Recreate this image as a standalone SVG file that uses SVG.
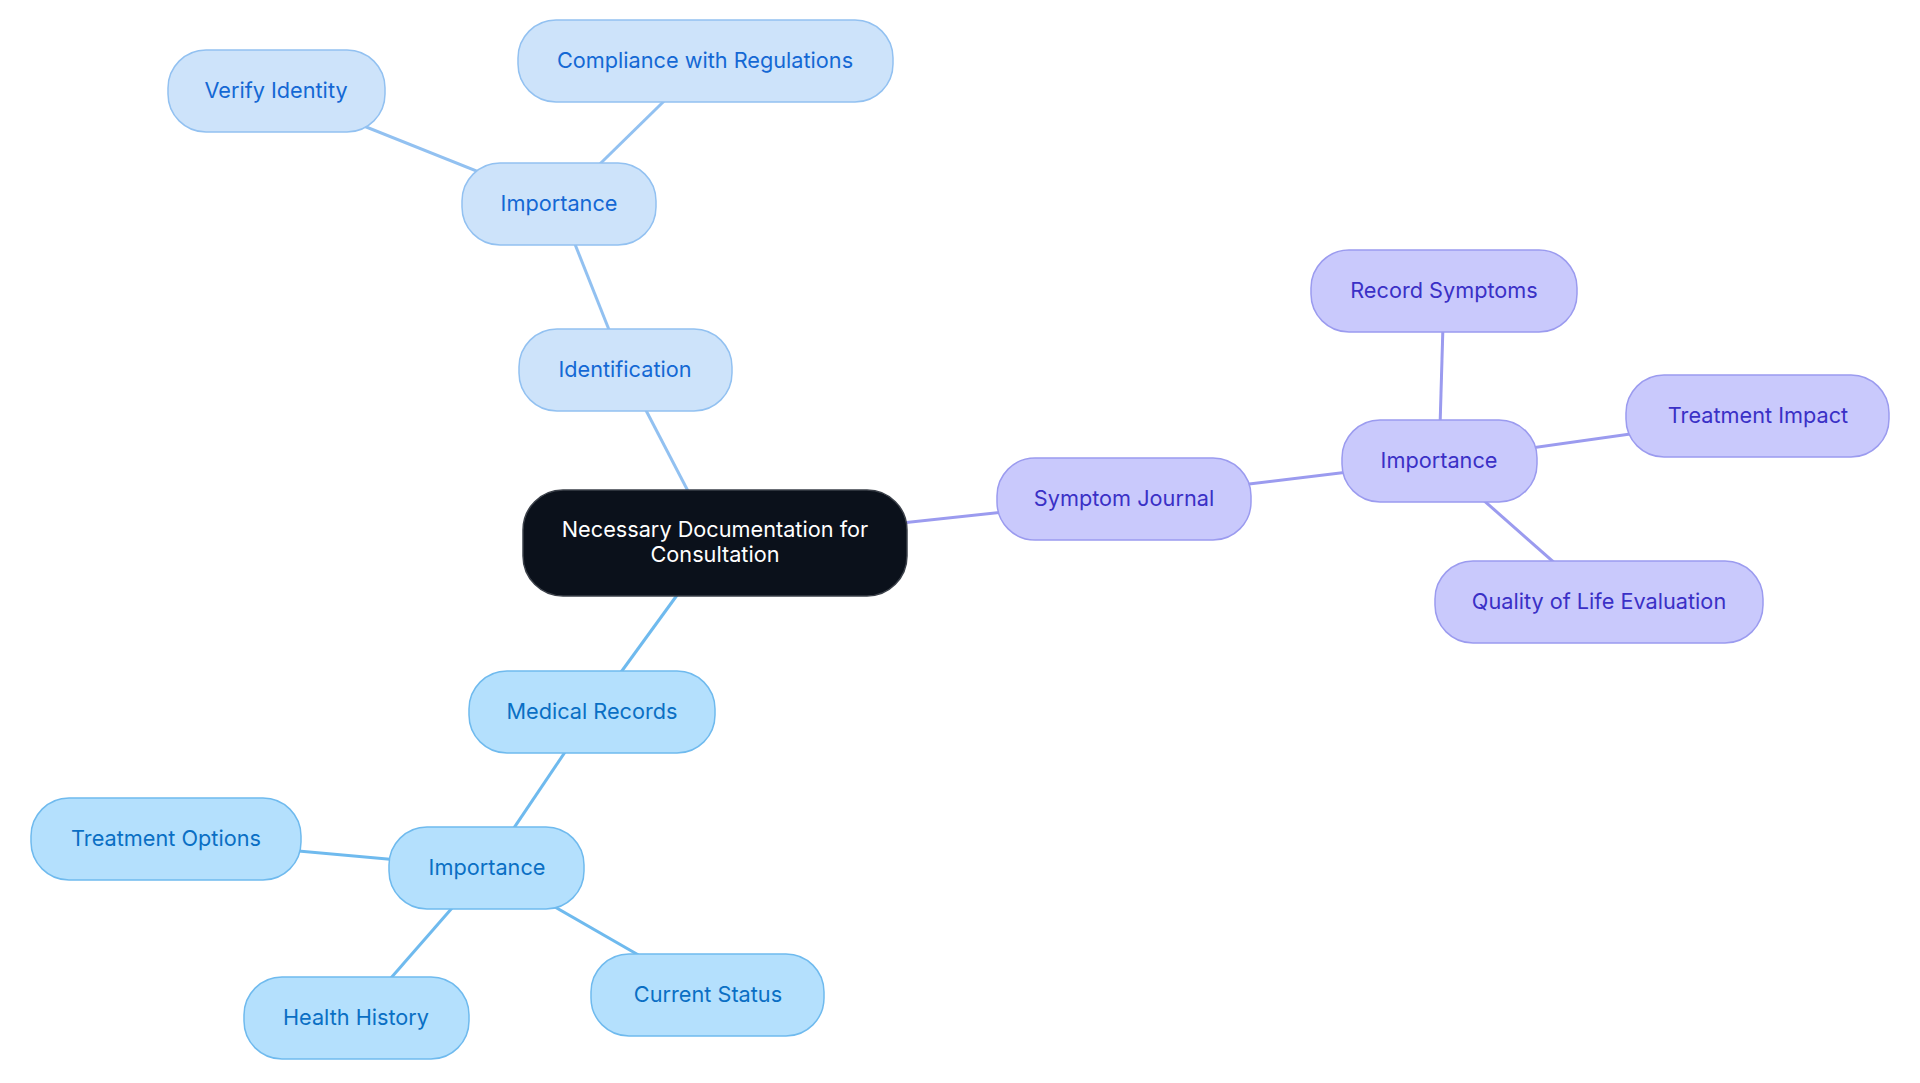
<svg xmlns="http://www.w3.org/2000/svg" width="1920" height="1083" viewBox="0 0 1920 1083">
<style>
text{font-family:Inter,"Noto Sans","Liberation Sans",sans-serif;font-size:21.7px;text-anchor:middle;dominant-baseline:central}
.a rect{fill:#cde3fa;stroke:#92c1f1;stroke-width:1.5}
.a text{fill:#1468d4}
.b rect{fill:#b4e0fd;stroke:#6fbaee;stroke-width:1.5}
.b text{fill:#0a6fc4}
.c rect{fill:#c9c9fc;stroke:#9b9bef;stroke-width:1.5}
.c text{fill:#3a30c6}
.la{stroke:#92c1f1;stroke-width:3;fill:none}
.lb{stroke:#6fbaee;stroke-width:3;fill:none}
.lc{stroke:#9b9bef;stroke-width:3;fill:none}
</style>
<rect width="1920" height="1083" fill="#ffffff"/>
<g id="connectors">
<line class="la" x1="715" y1="543" x2="625" y2="370"/>
<line class="la" x1="625" y1="370" x2="559" y2="204"/>
<line class="la" x1="559" y1="204" x2="276" y2="91"/>
<line class="la" x1="559" y1="204" x2="705" y2="61"/>
<line class="lc" x1="715" y1="543" x2="1124" y2="499"/>
<line class="lc" x1="1124" y1="499" x2="1439" y2="461"/>
<line class="lc" x1="1439" y1="461" x2="1444" y2="291"/>
<line class="lc" x1="1439" y1="461" x2="1758" y2="416"/>
<line class="lc" x1="1439" y1="461" x2="1599" y2="602"/>
<line class="lb" x1="715" y1="543" x2="592" y2="712"/>
<line class="lb" x1="592" y1="712" x2="487" y2="868"/>
<line class="lb" x1="487" y1="868" x2="166" y2="839"/>
<line class="lb" x1="487" y1="868" x2="356" y2="1018"/>
<line class="lb" x1="487" y1="868" x2="708" y2="995"/>
</g>
<g id="center">
<rect x="523" y="490" width="384" height="106" rx="40" fill="#0b111b" stroke="#3b4049" stroke-width="1.5"/>
<text x="715" y="529" fill="#ffffff">Necessary Documentation for</text>
<text x="715" y="554" fill="#ffffff">Consultation</text>
</g>
<g id="identification" class="a"><rect x="519" y="329" width="213" height="82" rx="38"/><text x="625" y="368.5">Identification</text></g>
<g id="importance-top" class="a"><rect x="462" y="163" width="194" height="82" rx="38"/><text x="559" y="202.5">Importance</text></g>
<g id="verify-identity" class="a"><rect x="168" y="50" width="217" height="82" rx="38"/><text x="276" y="89.5">Verify Identity</text></g>
<g id="compliance" class="a"><rect x="518" y="20" width="375" height="82" rx="38"/><text x="705" y="59.5">Compliance with Regulations</text></g>
<g id="symptom-journal" class="c"><rect x="997" y="458" width="254" height="82" rx="38"/><text x="1124" y="497.5">Symptom Journal</text></g>
<g id="importance-right" class="c"><rect x="1342" y="420" width="195" height="82" rx="38"/><text x="1439" y="459.5">Importance</text></g>
<g id="record-symptoms" class="c"><rect x="1311" y="250" width="266" height="82" rx="38"/><text x="1444" y="289.5">Record Symptoms</text></g>
<g id="treatment-impact" class="c"><rect x="1626" y="375" width="263" height="82" rx="38"/><text x="1758" y="414.5">Treatment Impact</text></g>
<g id="quality-of-life" class="c"><rect x="1435" y="561" width="328" height="82" rx="38"/><text x="1599" y="600.5">Quality of Life Evaluation</text></g>
<g id="medical-records" class="b"><rect x="469" y="671" width="246" height="82" rx="38"/><text x="592" y="710.5">Medical Records</text></g>
<g id="importance-bottom" class="b"><rect x="389" y="827" width="195" height="82" rx="38"/><text x="487" y="866.5">Importance</text></g>
<g id="treatment-options" class="b"><rect x="31" y="798" width="270" height="82" rx="38"/><text x="166" y="837.5">Treatment Options</text></g>
<g id="health-history" class="b"><rect x="244" y="977" width="225" height="82" rx="38"/><text x="356" y="1016.5">Health History</text></g>
<g id="current-status" class="b"><rect x="591" y="954" width="233" height="82" rx="38"/><text x="708" y="993.5">Current Status</text></g>
</svg>
